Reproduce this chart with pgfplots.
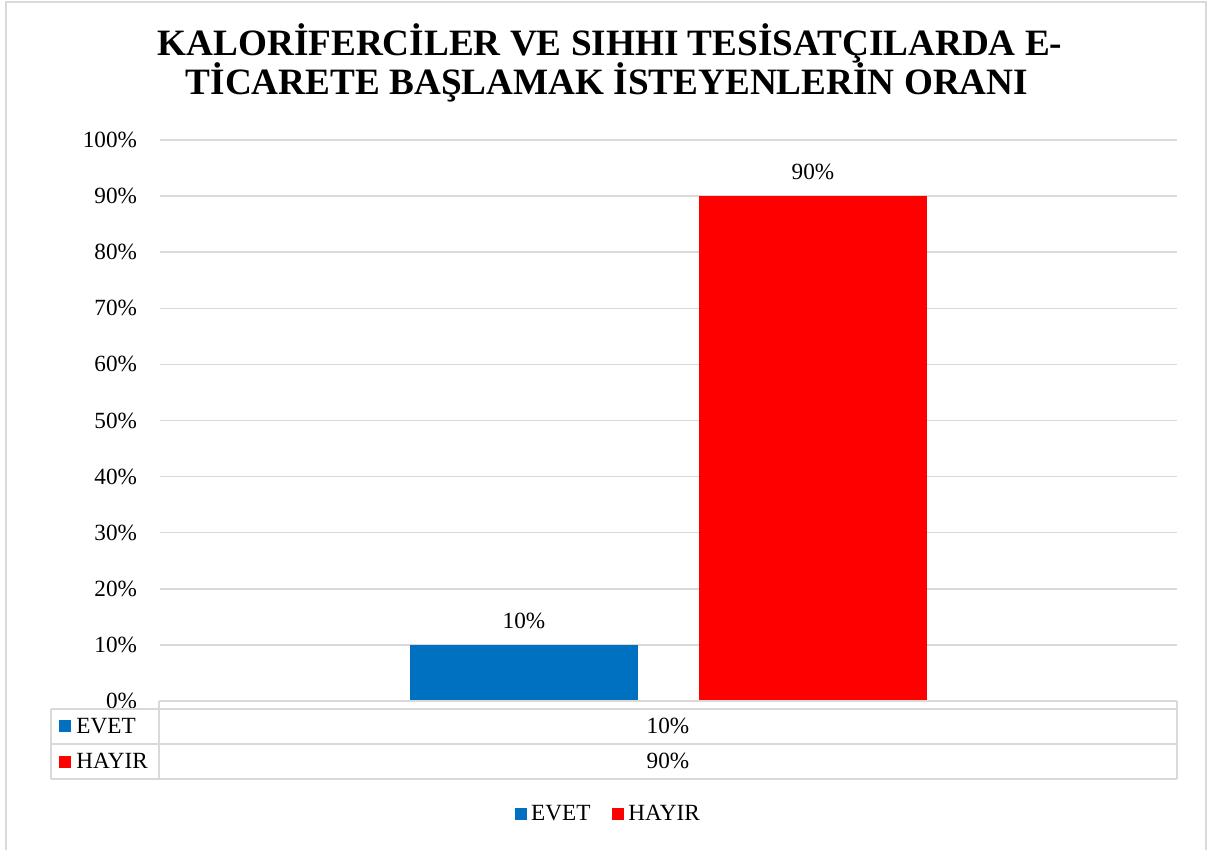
\documentclass[border=0pt]{standalone}
\usepackage{pgfplots}
\pgfplotsset{compat=1.18}
\usepackage{fontspec}
\setmainfont{Liberation Serif}
\definecolor{evet}{HTML}{0070C0}
\definecolor{hayir}{HTML}{FF0000}
\definecolor{gridgray}{HTML}{D9D9D9}
\begin{document}
\begin{tikzpicture}[font=\fontsize{11.6}{13}\selectfont]
\path[use as bounding box] (0,0) rectangle (604pt,425pt);
\begin{axis}[
    at={(80pt,74.5pt)}, anchor=south west,
    scale only axis, width=508.5pt, height=280.5pt,
    xmin=-0.5, xmax=0.5, ymin=0, ymax=100,
    ybar=30.5pt, bar width=114pt,
    xtick=\empty,
    ytick={0,10,...,100},
    /pgf/number format/assume math mode=true,
    yticklabel={\pgfmathprintnumber{\tick}\%},
    yticklabel style={xshift=-8pt},
    major tick length=0pt,
    axis line style={draw=none},
    ymajorgrids, grid style={gridgray, line width=0.75pt},
    nodes near coords={\pgfmathprintnumber{\pgfplotspointmeta}\%},
    every node near coord/.append style={text=black, yshift=4.5pt},
    legend columns=2,
    legend style={at={(0.442,-0.2014)}, anchor=center, draw=none,
        /tikz/every even column/.append style={column sep=9pt}},
    legend image code/.code={\fill[#1] (0pt,-3pt) rectangle (6pt,3pt);},
]
\addplot[fill=evet, draw=none] coordinates {(0,10)};
\addplot[fill=hayir, draw=none] coordinates {(0,90)};
\legend{EVET, HAYIR}
\end{axis}
\begin{scope}[x=0.5pt, y=-0.5pt, yshift=425pt]
% data table under the plot
\draw[gridgray, line width=0.75pt]
    (159,701) -- (1177,701)
    (51,709) -- (1177,709)
    (51,744) -- (1177,744)
    (51,779) -- (1177,779)
    (51,709) -- (51,779)
    (159,701) -- (159,779)
    (1177,701) -- (1177,779);
\fill[evet] (59,720) rectangle (71,732);
\node[anchor=base west, inner sep=0] at (76,734) {EVET};
\fill[hayir] (59,756) rectangle (71,768);
\node[anchor=base west, inner sep=0] at (76,769) {HAYIR};
\node[anchor=base, inner sep=0] at (668,734) {10\%};
\node[anchor=base, inner sep=0] at (668,769) {90\%};
% title
\node[anchor=base, inner sep=0, font=\bfseries\fontsize{18.6}{20}\selectfont]
    at (610,56) {KALORİFERCİLER VE SIHHI TESİSATÇILARDA E-};
\node[anchor=base, inner sep=0, font=\bfseries\fontsize{18.6}{20}\selectfont]
    at (607,95) {TİCARETE BAŞLAMAK İSTEYENLERİN ORANI};
% chart border
\draw[gridgray, line width=1pt] (6,850) -- (6,2) -- (1206,2) -- (1206,850);
\end{scope}
\end{tikzpicture}
\end{document}
